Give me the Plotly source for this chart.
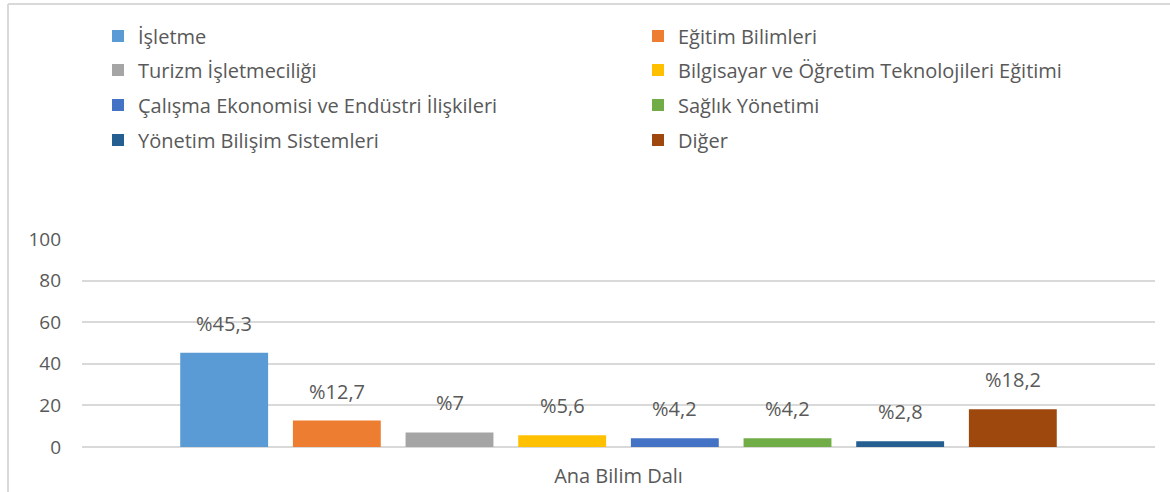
import plotly.graph_objects as go

categories = ["Ana Bilim Dalı"]
series_names = [
    "İşletme",
    "Eğitim Bilimleri",
    "Turizm İşletmeciliği",
    "Bilgisayar ve Öğretim Teknolojileri Eğitimi",
    "Çalışma Ekonomisi ve Endüstri İlişkileri",
    "Sağlık Yönetimi",
    "Yönetim Bilişim Sistemleri",
    "Diğer",
]
series_values = [45.3, 12.7, 7, 5.6, 4.2, 4.2, 2.8, 18.2]
series_colors = ["#5b9bd5", "#ed7d31", "#a5a5a5", "#ffc000",
                 "#4472c4", "#70ad47", "#255e91", "#9e480e"]
y_ticks = [0, 20, 40, 60, 80, 100]

FONT = "Open Sans"
TXT = "#595959"
W, H = 1170, 492
L, R, T, B = 82, 15, 239, 45

bargap = 0.16
bargroupgap = 0.22
n = len(series_values)

def fmt(v):
    s = ("%g" % v).replace(".", ",")
    return "%" + s

legend_ids = ["legend"] + ["legend%d" % (k + 1) for k in range(1, n)]

fig = go.Figure()
for i, (name, val, col) in enumerate(zip(series_names, series_values, series_colors)):
    fig.add_trace(go.Bar(
        x=categories, y=[val], name=name,
        marker=dict(color=col, line=dict(width=0)),
        legend=legend_ids[i],
        hoverinfo="name+y",
    ))

slot = (1 - bargap) / n
annotations = []
for i, val in enumerate(series_values):
    annotations.append(dict(
        x=(i - (n - 1) / 2) * slot, y=val, xref="x", yref="y",
        text=fmt(val), showarrow=False, yanchor="bottom",
        yshift=14, font=dict(family=FONT, size=20, color=TXT),
    ))

row_y = [36, 70, 105, 140]
col_x = [98, 638]
legends = {}
for i, lid in enumerate(legend_ids):
    legends[lid] = dict(
        orientation="h", xref="container", yref="container",
        x=col_x[i % 2] / W, y=1 - row_y[i // 2] / H,
        xanchor="left", yanchor="middle",
        font=dict(family=FONT, size=20, color=TXT),
        itemwidth=30, bgcolor="rgba(0,0,0,0)",
    )

fig.update_layout(
    width=W, height=H,
    margin=dict(l=L, r=R, t=T, b=B),
    paper_bgcolor="white", plot_bgcolor="white",
    barmode="group", bargap=bargap, bargroupgap=bargroupgap,
    font=dict(family=FONT, color=TXT),
    annotations=annotations,
    showlegend=True,
    **legends,
    xaxis=dict(
        showgrid=False, showline=False, ticks="", automargin=False,
        ticklabelstandoff=15,
        tickfont=dict(family=FONT, size=20, color=TXT),
    ),
    yaxis=dict(
        range=[0, 100], tickvals=y_ticks, showgrid=True, automargin=False,
        gridcolor="#d9d9d9", gridwidth=1.5,
        zeroline=True, zerolinecolor="#d9d9d9", zerolinewidth=1.5,
        showline=False, ticks="", ticklabelstandoff=20,
        tickfont=dict(family=FONT, size=19, color=TXT),
    ),
    shapes=[
        dict(type="line", xref="paper", yref="paper",
             x0=(8 - L) / (W - L - R), x1=(W - L) / (W - L - R),
             y0=(H - 4 - B) / (H - T - B), y1=(H - 4 - B) / (H - T - B),
             line=dict(color="#d9d9d9", width=2)),
        dict(type="line", xref="paper", yref="paper",
             x0=(8 - L) / (W - L - R), x1=(8 - L) / (W - L - R),
             y0=-B / (H - T - B), y1=(H - 4 - B) / (H - T - B),
             line=dict(color="#d9d9d9", width=2)),
    ],
)

fig.write_html("out.html", config={"displayModeBar": False},
               post_script="document.body.style.margin='0';")
